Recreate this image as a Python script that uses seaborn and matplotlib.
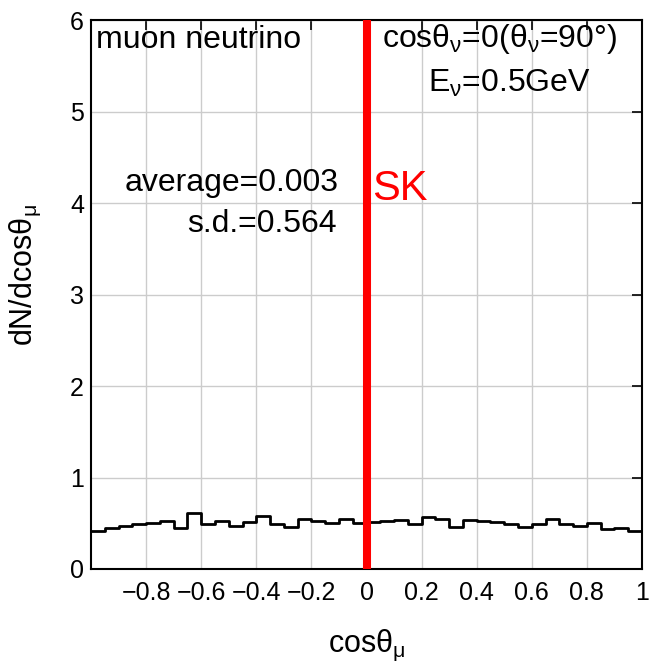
import numpy as np
import pandas as pd
import matplotlib
matplotlib.use("Agg")
import matplotlib.pyplot as plt
import seaborn as sns

# Data: histogram bin edges and heights (dN/dcos theta_mu), 40 bins of 0.05
bin_edges = [round(-1.0 + 0.05 * i, 2) for i in range(41)]
heights = [0.42, 0.445, 0.47, 0.49, 0.50, 0.52, 0.45, 0.61, 0.495, 0.52,
           0.47, 0.51, 0.58, 0.495, 0.46, 0.55, 0.525, 0.50, 0.55, 0.50,
           0.51, 0.53, 0.54, 0.49, 0.57, 0.55, 0.46, 0.54, 0.53, 0.51,
           0.49, 0.46, 0.495, 0.545, 0.49, 0.47, 0.50, 0.44, 0.45, 0.41]
sk_cos = 0.0
xticks = [-0.8, -0.6, -0.4, -0.2, 0, 0.2, 0.4, 0.6, 0.8, 1]
xticklabels = ["\u22120.8", "\u22120.6", "\u22120.4", "\u22120.2", "0", "0.2", "0.4", "0.6", "0.8", "1"]
yticks = [0, 1, 2, 3, 4, 5, 6]

edges_arr = np.array(bin_edges)
centers = (edges_arr[:-1] + edges_arr[1:]) / 2
df = pd.DataFrame({"cos": centers, "w": heights})

sns.set_style("white")
plt.rcParams["font.family"] = ["Liberation Sans", "DejaVu Sans"]
plt.rcParams["mathtext.fontset"] = "custom"
plt.rcParams["mathtext.rm"] = "Liberation Sans"
plt.rcParams["mathtext.it"] = "Liberation Sans:italic"
for k in ["text.color", "axes.labelcolor", "xtick.color", "ytick.color"]:
    plt.rcParams[k] = "black"

fig = plt.figure(figsize=(6.56, 6.70), dpi=100)
ax = fig.add_axes([91/656, 1-569/670, (642-91)/656, (569-20)/670])

ax.grid(True, color="#cccccc", linewidth=1.0)
ax.set_axisbelow(True)

sns.histplot(data=df, x="cos", weights="w", bins=bin_edges, element="step",
             fill=False, color="black", linewidth=2.0, ax=ax)

ax.axvline(sk_cos, color="#ff0000", linewidth=5.8, zorder=5)

ax.set_xlim(-1, 1)
ax.set_ylim(0, 6)
ax.set_xticks(xticks)
ax.set_xticklabels(xticklabels)
ax.set_yticks(yticks)
ax.tick_params(direction="in", length=7, width=1.2, top=True, right=True,
               labelsize=18, colors="black")
ax.tick_params(axis="x", pad=9)
ax.tick_params(axis="y", pad=5)
for s in ax.spines.values():
    s.set_color("black")
    s.set_linewidth(1.5)

ax.set_xlabel(r"cos$\mathregular{\theta_{\mu}}$", fontsize=22, labelpad=16)
ax.set_ylabel(r"dN/dcos$\mathregular{\theta_{\mu}}$", fontsize=22)
ax.yaxis.set_label_coords(-0.087, 0.535)

ax.text(-0.982, 5.694, "muon neutrino", fontsize=23, ha="left", va="baseline")
ax.text(0.909, 5.705, r"cosθ$\mathregular{_{ν}}$=0(θ$\mathregular{_{ν}}$=90°)",
        fontsize=23, ha="right", va="baseline")
ax.text(0.815, 5.213, r"E$\mathregular{_{ν}}$=0.5GeV", fontsize=23, ha="right", va="baseline")
ax.text(-0.100, 4.131, "average=0.003", fontsize=23, ha="right", va="baseline")
ax.text(-0.107, 3.683, "s.d.=0.564", fontsize=23, ha="right", va="baseline")
ax.text(0.020, 4.033, "SK", fontsize=30, color="#ff0000", ha="left", va="baseline")

fig.savefig("out.png", dpi=100)
